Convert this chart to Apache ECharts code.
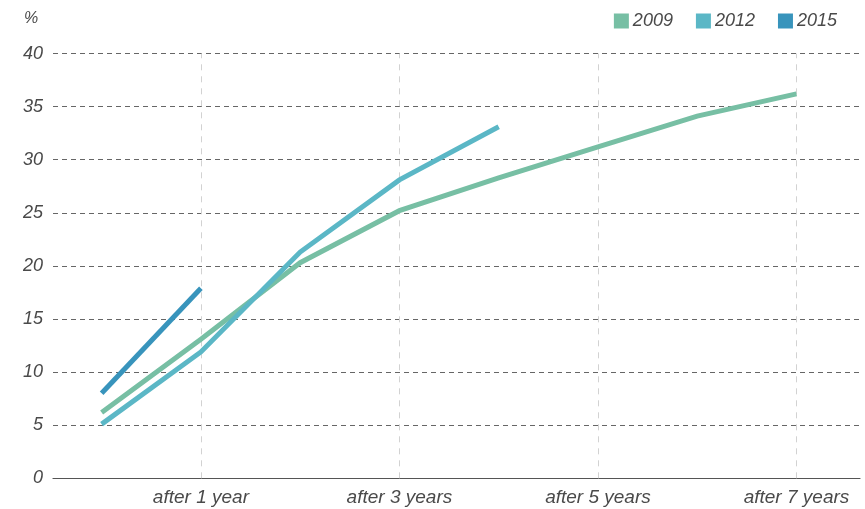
<!DOCTYPE html>
<html>
<head>
<meta charset="utf-8">
<script src="https://cdn.jsdelivr.net/npm/echarts@6/dist/echarts.min.js"></script>
<style>html,body{margin:0;padding:0;background:#fff}#c{width:865px;height:509px}</style>
</head>
<body>
<div id="c"></div>
<script>
const years = [0, 1, 2, 3, 4, 5, 6, 7];
const tickYears = [1, 3, 5, 7];
const tickLabels = ['after 1 year', 'after 3 years', 'after 5 years', 'after 7 years'];
const seriesNames = ['2009', '2012', '2015'];
const values2009 = [6.2, 13.1, 20.3, 25.2, 28.3, 31.2, 34.1, 36.2];
const values2012 = [5.1, 11.9, 21.3, 28.1, 33.1];
const values2015 = [8.0, 17.9];
const colors = ['#77bfa4', '#5bb7c6', '#3894bc'];

const FONT = '"Liberation Sans", Arial, sans-serif';
const TXT = '#4a4a4a';
const pairs = vals => vals.map((v, i) => [years[i], v]);
const labelMap = {};
tickYears.forEach((y, i) => { labelMap[y] = tickLabels[i]; });

const chart = echarts.init(document.getElementById('c'), null, {renderer: 'canvas'});
const mkSeries = (name, vals, color, withMark) => {
  const s = {
    name: name,
    type: 'line',
    data: pairs(vals),
    showSymbol: false,
    symbol: 'none',
    lineStyle: {width: 5, color: color, cap: 'butt', join: 'miter'},
    itemStyle: {color: color},
    z: 3
  };
  if (withMark) {
    s.markLine = {
      silent: true,
      symbol: ['none', 'none'],
      label: {show: false},
      lineStyle: {color: '#d2d2d2', type: [6, 6], width: 1},
      data: tickYears.map(y => ({xAxis: y})),
      z: 1
    };
  }
  return s;
};

chart.setOption({
  animation: false,
  color: colors,
  textStyle: {fontFamily: FONT},
  title: {
    text: '%',
    left: 24,
    top: 11,
    padding: 0,
    textStyle: {fontFamily: FONT, fontSize: 16, fontStyle: 'italic', fontWeight: 'normal', color: TXT}
  },
  grid: {left: 53, right: 5, top: 53.5, bottom: 30.7, containLabel: false},
  legend: {
    data: seriesNames,
    right: 23,
    top: 7,
    icon: 'rect',
    itemWidth: 15,
    itemHeight: 15,
    itemGap: 23,
    textStyle: {fontFamily: FONT, fontSize: 18, fontStyle: 'italic', fontWeight: 'normal', color: TXT, padding: [0, 0, 0, -1]}
  },
  xAxis: {
    type: 'value',
    min: -0.49,
    max: 7.64,
    axisLine: {show: true, lineStyle: {color: '#555', width: 1.2}},
    axisTick: {show: false},
    splitLine: {show: false},
    axisLabel: {
      customValues: tickYears,
      formatter: v => labelMap[v] || '',
      margin: 10,
      fontFamily: FONT,
      fontSize: 19,
      fontStyle: 'italic',
      color: TXT
    }
  },
  yAxis: {
    type: 'value',
    min: 0,
    max: 40,
    interval: 5,
    axisLine: {show: false},
    axisTick: {show: false},
    axisLabel: {margin: 10, fontFamily: FONT, fontSize: 18, fontStyle: 'italic', color: TXT},
    splitLine: {show: true, lineStyle: {color: '#666', type: [5, 4], width: 1}}
  },
  series: [
    mkSeries(seriesNames[0], values2009, colors[0], true),
    mkSeries(seriesNames[1], values2012, colors[1], false),
    mkSeries(seriesNames[2], values2015, colors[2], false)
  ]
});
</script>
</body>
</html>
